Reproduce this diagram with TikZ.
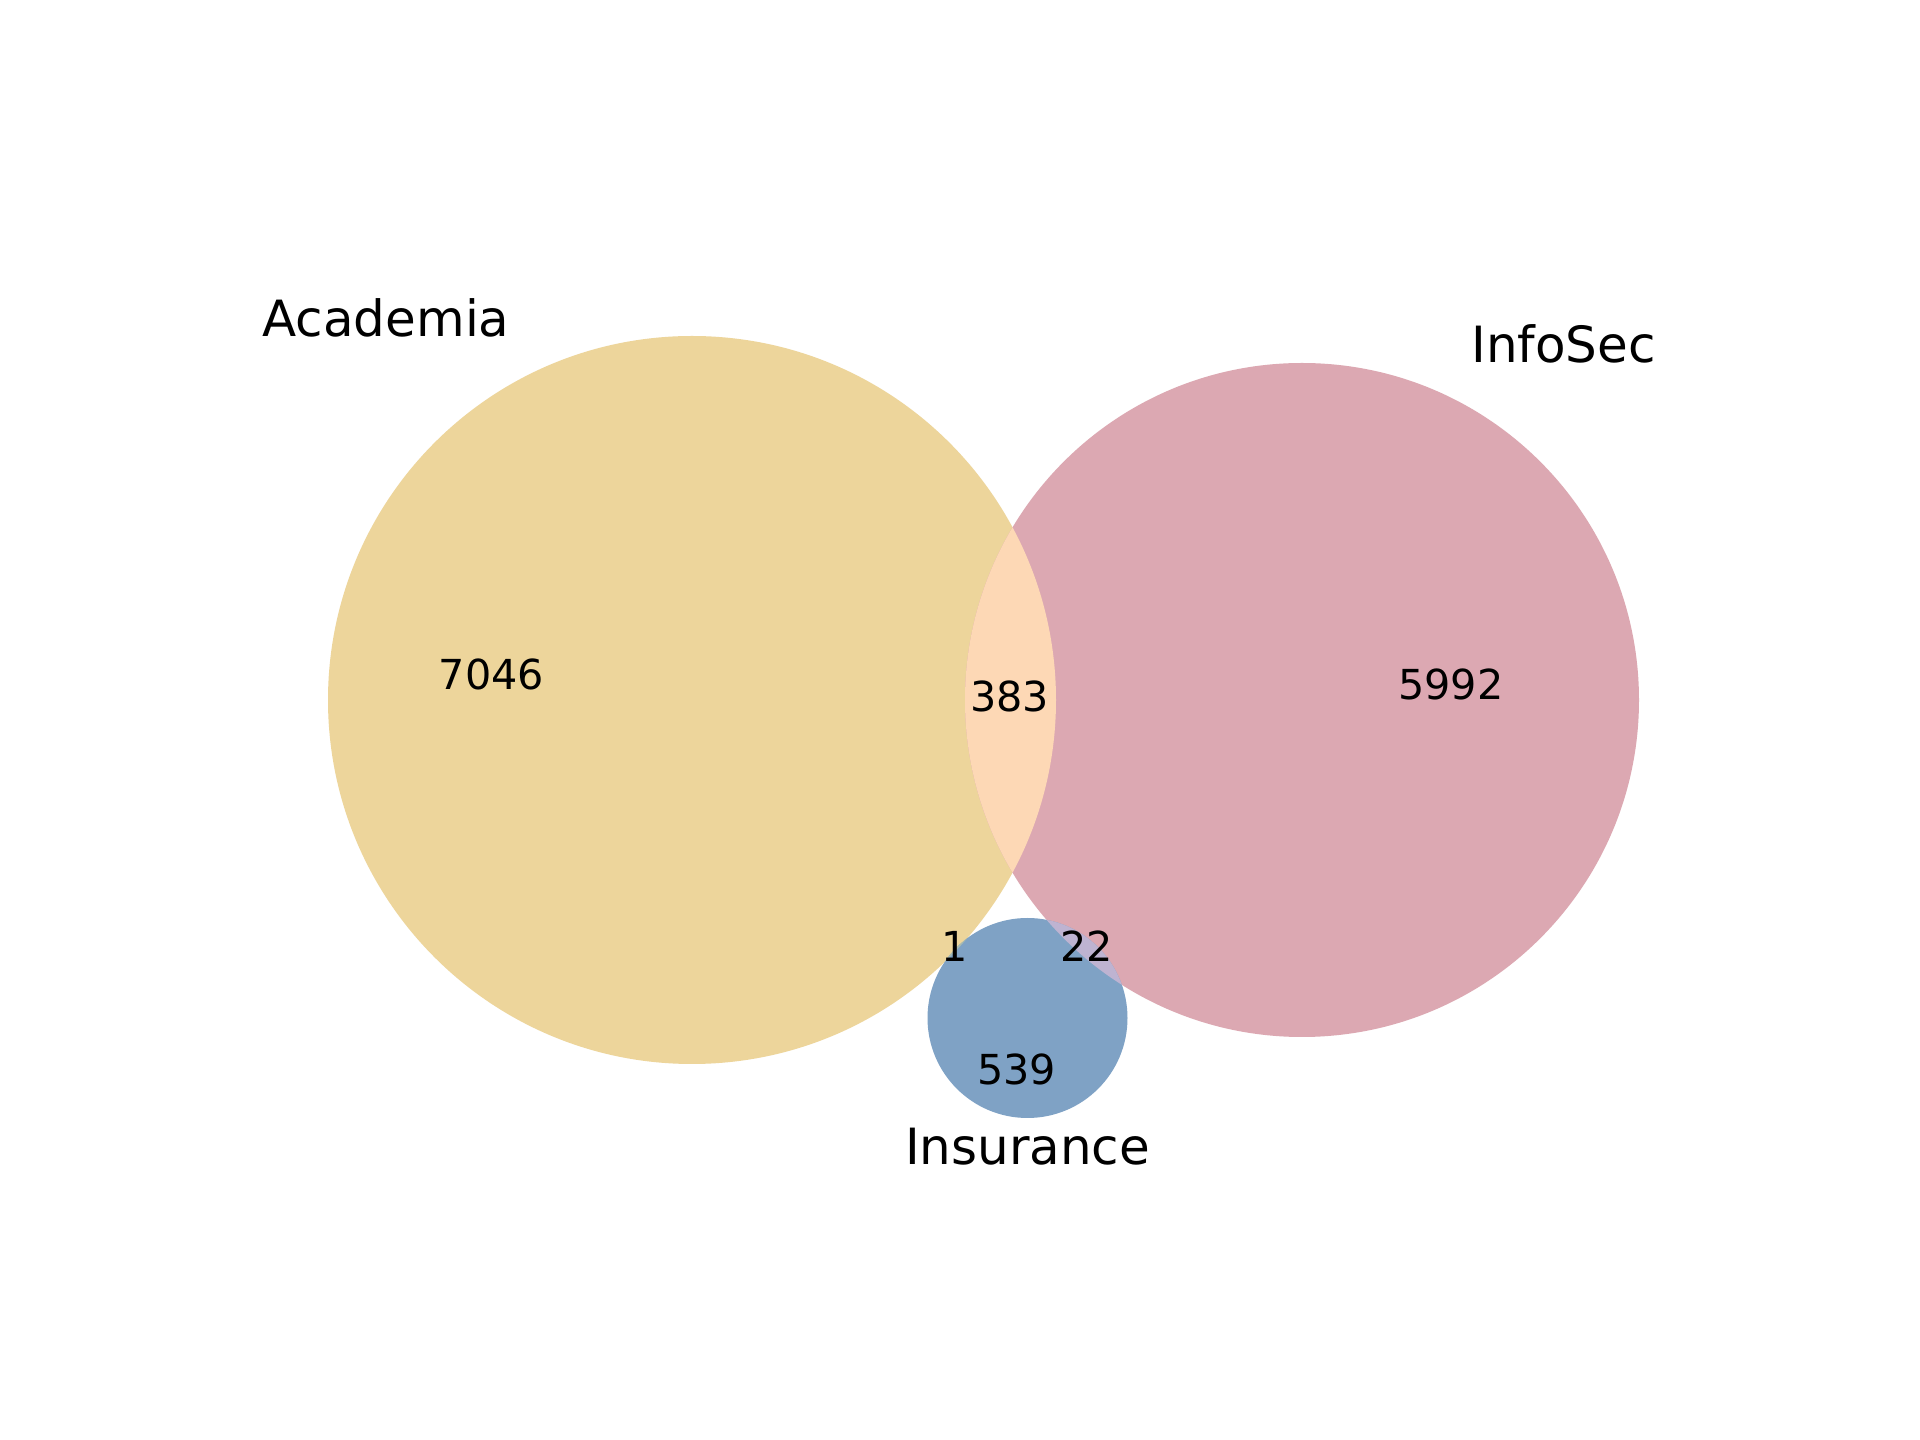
\documentclass[tikz,border=0pt]{standalone}
\usepackage{fontspec}
\setmainfont{DejaVu Sans}
\definecolor{acad}{HTML}{EDD59B}
\definecolor{info}{HTML}{DCA8B2}
\definecolor{insu}{HTML}{7FA2C5}
\definecolor{peach}{HTML}{FDD8B5}
\definecolor{lav}{HTML}{BEB3D1}
\definecolor{acins}{HTML}{A9BBB0}
\tikzset{
  setlabel/.style={anchor=base,inner sep=0pt,font=\fontsize{14.2}{16}\selectfont},
  count/.style={anchor=base,inner sep=0pt,font=\fontsize{11.75}{14}\selectfont},
}
\begin{document}
\begin{tikzpicture}[x=0.01cm,y=-0.01cm]
\useasboundingbox (0,0) rectangle (1920,1440);
\fill[white] (0,0) rectangle (1920,1440);
\def\acadc{(692,700) circle[radius=364]}
\def\infoc{(1302,700) circle[radius=337]}
\def\insuc{(1027.5,1018) circle[radius=100]}
\fill[acad] \acadc;
\fill[info] \infoc;
\fill[insu] \insuc;
\begin{scope}
  \clip \acadc;
  \fill[peach] \infoc;
  \fill[acins] \insuc;
\end{scope}
\begin{scope}
  \clip \infoc;
  \fill[lav] \insuc;
\end{scope}
\node[setlabel] (lacad) at (386,336.7) {Academia};
\node[setlabel] (linfo) at (1563.5,362.3) {InfoSec};
\node[setlabel] (linsu) at (1027.5,1164.8) {Insurance};
\node[count] (n7046) at (491.5,689.3) {7046};
\node[count] (n5992) at (1451,699.3) {5992};
\node[count] (n383) at (1009.5,711.7) {383};
\node[count] (n1) at (955,961.7) {1};
\node[count] (n22) at (1087,961.7) {22};
\node[count] (n539) at (1016.5,1085) {539};
\end{tikzpicture}
\end{document}
